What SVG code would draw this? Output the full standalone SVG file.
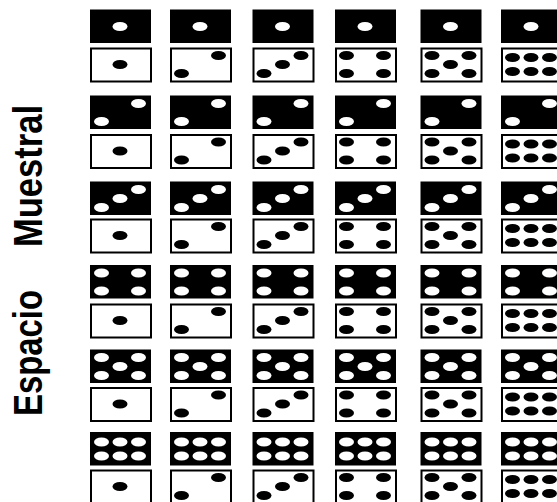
<svg xmlns="http://www.w3.org/2000/svg" xmlns:xlink="http://www.w3.org/1999/xlink" width="557" height="502" viewBox="0 0 557 502">
<style>
.lbl{font-family:"Liberation Sans",Arial,sans-serif;font-weight:bold;font-size:40px;fill:#000}
.bk{fill:#000}
.wh{fill:#fff;stroke:#000;stroke-width:2}
.bp{fill:#fff}
.wp{fill:#000}
</style>
<defs>
<g id="p1"><ellipse cx="30" cy="17" rx="7.5" ry="4.5"/></g>
<g id="p2"><ellipse cx="11.5" cy="26" rx="7.5" ry="4.5"/><ellipse cx="48.5" cy="8" rx="7.5" ry="4.5"/></g>
<g id="p3"><ellipse cx="11.5" cy="26" rx="7.5" ry="4.5"/><ellipse cx="30" cy="17" rx="7.5" ry="4.5"/><ellipse cx="48.5" cy="8" rx="7.5" ry="4.5"/></g>
<g id="p4"><ellipse cx="11.5" cy="8" rx="7.5" ry="4.5"/><ellipse cx="48.5" cy="8" rx="7.5" ry="4.5"/><ellipse cx="11.5" cy="26" rx="7.5" ry="4.5"/><ellipse cx="48.5" cy="26" rx="7.5" ry="4.5"/></g>
<g id="p5"><ellipse cx="11.5" cy="8" rx="7.5" ry="4.5"/><ellipse cx="48.5" cy="8" rx="7.5" ry="4.5"/><ellipse cx="30" cy="17" rx="7.5" ry="4.5"/><ellipse cx="11.5" cy="26" rx="7.5" ry="4.5"/><ellipse cx="48.5" cy="26" rx="7.5" ry="4.5"/></g>
<g id="p6"><ellipse cx="11.5" cy="10" rx="7.5" ry="4.5"/><ellipse cx="30" cy="10" rx="7.5" ry="4.5"/><ellipse cx="48.5" cy="10" rx="7.5" ry="4.5"/><ellipse cx="11.5" cy="24" rx="7.5" ry="4.5"/><ellipse cx="30" cy="24" rx="7.5" ry="4.5"/><ellipse cx="48.5" cy="24" rx="7.5" ry="4.5"/></g>
<g id="B1"><rect class="bk" width="61" height="33.5"/><use xlink:href="#p1" class="bp"/></g>
<g id="B2"><rect class="bk" width="61" height="33.5"/><use xlink:href="#p2" class="bp"/></g>
<g id="B3"><rect class="bk" width="61" height="33.5"/><use xlink:href="#p3" class="bp"/></g>
<g id="B4"><rect class="bk" width="61" height="33.5"/><use xlink:href="#p4" class="bp"/></g>
<g id="B5"><rect class="bk" width="61" height="33.5"/><use xlink:href="#p5" class="bp"/></g>
<g id="B6"><rect class="bk" width="61" height="33.5"/><use xlink:href="#p6" class="bp"/></g>
<g id="W1"><rect class="wh" x="1" y="1" width="60" height="33"/><use xlink:href="#p1" class="wp"/></g>
<g id="W2"><rect class="wh" x="1" y="1" width="60" height="33"/><use xlink:href="#p2" class="wp"/></g>
<g id="W3"><rect class="wh" x="1" y="1" width="60" height="33"/><use xlink:href="#p3" class="wp"/></g>
<g id="W4"><rect class="wh" x="1" y="1" width="60" height="33"/><use xlink:href="#p4" class="wp"/></g>
<g id="W5"><rect class="wh" x="1" y="1" width="60" height="33"/><use xlink:href="#p5" class="wp"/></g>
<g id="W6"><rect class="wh" x="1" y="1" width="60" height="33"/><use xlink:href="#p6" class="wp"/></g>
</defs>
<rect width="557" height="502" fill="#fff"/>
<g id="title">
<text class="lbl" transform="translate(42,416) rotate(-90)" textLength="126" lengthAdjust="spacingAndGlyphs">Espacio</text>
<text class="lbl" transform="translate(42,247) rotate(-90)" textLength="142" lengthAdjust="spacingAndGlyphs">Muestral</text>
</g>
<g id="r1c1"><use xlink:href="#B1" x="90" y="9.5"/><use xlink:href="#W1" x="90" y="47.5"/></g>
<g id="r1c2"><use xlink:href="#B1" x="170" y="9.5"/><use xlink:href="#W2" x="170" y="47.5"/></g>
<g id="r1c3"><use xlink:href="#B1" x="252.5" y="9.5"/><use xlink:href="#W3" x="252.5" y="47.5"/></g>
<g id="r1c4"><use xlink:href="#B1" x="335" y="9.5"/><use xlink:href="#W4" x="335" y="47.5"/></g>
<g id="r1c5"><use xlink:href="#B1" x="420.5" y="9.5"/><use xlink:href="#W5" x="420.5" y="47.5"/></g>
<g id="r1c6"><use xlink:href="#B1" x="501" y="9.5"/><use xlink:href="#W6" x="501" y="47.5"/></g>
<g id="r2c1"><use xlink:href="#B2" x="90" y="95.5"/><use xlink:href="#W1" x="90" y="134"/></g>
<g id="r2c2"><use xlink:href="#B2" x="170" y="95.5"/><use xlink:href="#W2" x="170" y="134"/></g>
<g id="r2c3"><use xlink:href="#B2" x="252.5" y="95.5"/><use xlink:href="#W3" x="252.5" y="134"/></g>
<g id="r2c4"><use xlink:href="#B2" x="335" y="95.5"/><use xlink:href="#W4" x="335" y="134"/></g>
<g id="r2c5"><use xlink:href="#B2" x="420.5" y="95.5"/><use xlink:href="#W5" x="420.5" y="134"/></g>
<g id="r2c6"><use xlink:href="#B2" x="501" y="95.5"/><use xlink:href="#W6" x="501" y="134"/></g>
<g id="r3c1"><use xlink:href="#B3" x="90" y="181.5"/><use xlink:href="#W1" x="90" y="218.5"/></g>
<g id="r3c2"><use xlink:href="#B3" x="170" y="181.5"/><use xlink:href="#W2" x="170" y="218.5"/></g>
<g id="r3c3"><use xlink:href="#B3" x="252.5" y="181.5"/><use xlink:href="#W3" x="252.5" y="218.5"/></g>
<g id="r3c4"><use xlink:href="#B3" x="335" y="181.5"/><use xlink:href="#W4" x="335" y="218.5"/></g>
<g id="r3c5"><use xlink:href="#B3" x="420.5" y="181.5"/><use xlink:href="#W5" x="420.5" y="218.5"/></g>
<g id="r3c6"><use xlink:href="#B3" x="501" y="181.5"/><use xlink:href="#W6" x="501" y="218.5"/></g>
<g id="r4c1"><use xlink:href="#B4" x="90" y="265"/><use xlink:href="#W1" x="90" y="303.5"/></g>
<g id="r4c2"><use xlink:href="#B4" x="170" y="265"/><use xlink:href="#W2" x="170" y="303.5"/></g>
<g id="r4c3"><use xlink:href="#B4" x="252.5" y="265"/><use xlink:href="#W3" x="252.5" y="303.5"/></g>
<g id="r4c4"><use xlink:href="#B4" x="335" y="265"/><use xlink:href="#W4" x="335" y="303.5"/></g>
<g id="r4c5"><use xlink:href="#B4" x="420.5" y="265"/><use xlink:href="#W5" x="420.5" y="303.5"/></g>
<g id="r4c6"><use xlink:href="#B4" x="501" y="265"/><use xlink:href="#W6" x="501" y="303.5"/></g>
<g id="r5c1"><use xlink:href="#B5" x="90" y="349.5"/><use xlink:href="#W1" x="90" y="387"/></g>
<g id="r5c2"><use xlink:href="#B5" x="170" y="349.5"/><use xlink:href="#W2" x="170" y="387"/></g>
<g id="r5c3"><use xlink:href="#B5" x="252.5" y="349.5"/><use xlink:href="#W3" x="252.5" y="387"/></g>
<g id="r5c4"><use xlink:href="#B5" x="335" y="349.5"/><use xlink:href="#W4" x="335" y="387"/></g>
<g id="r5c5"><use xlink:href="#B5" x="420.5" y="349.5"/><use xlink:href="#W5" x="420.5" y="387"/></g>
<g id="r5c6"><use xlink:href="#B5" x="501" y="349.5"/><use xlink:href="#W6" x="501" y="387"/></g>
<g id="r6c1"><use xlink:href="#B6" x="90" y="432"/><use xlink:href="#W1" x="90" y="469.5"/></g>
<g id="r6c2"><use xlink:href="#B6" x="170" y="432"/><use xlink:href="#W2" x="170" y="469.5"/></g>
<g id="r6c3"><use xlink:href="#B6" x="252.5" y="432"/><use xlink:href="#W3" x="252.5" y="469.5"/></g>
<g id="r6c4"><use xlink:href="#B6" x="335" y="432"/><use xlink:href="#W4" x="335" y="469.5"/></g>
<g id="r6c5"><use xlink:href="#B6" x="420.5" y="432"/><use xlink:href="#W5" x="420.5" y="469.5"/></g>
<g id="r6c6"><use xlink:href="#B6" x="501" y="432"/><use xlink:href="#W6" x="501" y="469.5"/></g>
</svg>
